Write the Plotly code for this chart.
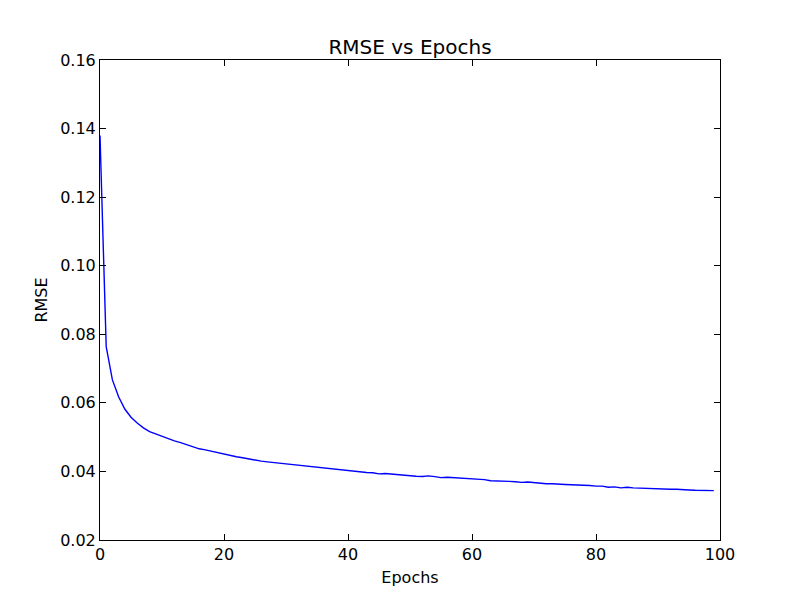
import plotly.graph_objects as go

epochs = list(range(100))
rmse = [
    0.1380, 0.0764, 0.0667, 0.0618, 0.0582, 0.0558, 0.0541, 0.0527, 0.0516, 0.0509,
    0.0501, 0.0494, 0.0489, 0.0484, 0.0478, 0.0474, 0.0466, 0.0463, 0.0459, 0.0454,
    0.0449, 0.0446, 0.0443, 0.0440, 0.0436, 0.0434, 0.0430, 0.0428, 0.0426, 0.0423,
    0.0421, 0.0419, 0.0418, 0.0415, 0.0413, 0.0412, 0.0411, 0.0409, 0.0407, 0.0405,
    0.0402, 0.0400, 0.0399, 0.0397, 0.0396, 0.0393, 0.0394, 0.0392, 0.0391, 0.0389,
    0.0388, 0.0386, 0.0385, 0.0387, 0.0385, 0.0382, 0.0383, 0.0382, 0.0380, 0.0378,
    0.0377, 0.0376, 0.0376, 0.0373, 0.0373, 0.0372, 0.0371, 0.0370, 0.0368, 0.0369,
    0.0367, 0.0364, 0.0364, 0.0364, 0.0362, 0.0362, 0.0361, 0.0361, 0.0360, 0.0359,
    0.0357, 0.0357, 0.0354, 0.0355, 0.0352, 0.0354, 0.0352, 0.0351, 0.0351, 0.0350,
    0.0349, 0.0348, 0.0348, 0.0348, 0.0346, 0.0346, 0.0345, 0.0345, 0.0343, 0.0344,
]
x_ticks = [0, 20, 40, 60, 80, 100]
y_ticks = [0.02, 0.04, 0.06, 0.08, 0.10, 0.12, 0.14, 0.16]

fig = go.Figure(go.Scatter(x=epochs, y=rmse, mode="lines",
                           line=dict(color="#0000ff", width=1.4)))

font = dict(family="DejaVu Sans", size=16, color="black")
axis_common = dict(showline=True, linecolor="black", linewidth=1, mirror="ticks",
                   ticks="inside", ticklen=6, tickcolor="black", tickwidth=1,
                   showgrid=False, zeroline=False, tickfont=font)

W, H = 792, 592
fig.update_layout(
    width=W, height=H,
    margin=dict(l=92, r=80, t=52, b=60),
    paper_bgcolor="white", plot_bgcolor="white",
    showlegend=False,
    font=font,
    title=dict(text="RMSE vs Epochs", x=402 / W, xanchor="center", y=1 - 39 / H,
               yanchor="middle", font=dict(family="DejaVu Sans", size=20, color="black")),
    xaxis=dict(range=[0, 100], tickvals=x_ticks, ticktext=[str(v) for v in x_ticks],
               title=dict(text="Epochs", standoff=8, font=font), **axis_common),
    yaxis=dict(range=[0.02, 0.16], tickvals=y_ticks, ticktext=[f"{v:.2f}" for v in y_ticks],
               title=dict(text="RMSE", standoff=8, font=font), **axis_common),
)

fig.write_html("out.html")
